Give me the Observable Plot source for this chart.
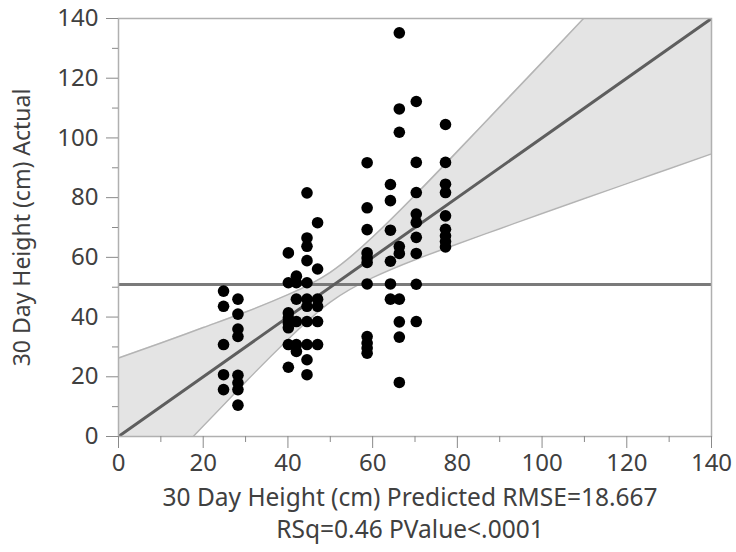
<!DOCTYPE html>
<html><head><meta charset="utf-8">
<script src="https://cdn.jsdelivr.net/npm/d3@7"></script>
<script src="https://cdn.jsdelivr.net/npm/@observablehq/plot@0.6"></script>
<style>body{margin:0;background:#fff}</style>
</head><body><div id="chart"></div>
<script>
// Predicted levels (x) and the actual values observed at each level (y)
const predictedLevels = [24.8, 28.2, 40.1, 42.0, 44.5, 47.0, 58.7, 64.2, 66.3, 70.3, 77.2];
const actualByLevel = [
  [48.7, 43.6, 30.8, 20.7, 15.7],
  [46.0, 41.0, 36.0, 33.5, 20.5, 18.0, 15.7, 10.5],
  [61.5, 51.5, 41.4, 39.7, 38.0, 36.4, 30.8, 23.2],
  [53.7, 51.5, 46.0, 38.5, 30.8, 28.5],
  [81.6, 66.5, 63.7, 58.9, 51.5, 46.0, 43.6, 38.5, 30.8, 25.7, 20.7],
  [71.6, 56.1, 46.0, 43.6, 38.5, 30.8],
  [91.7, 76.6, 69.3, 61.5, 59.8, 58.3, 51.1, 33.5, 31.3, 29.6, 27.9],
  [84.4, 79.0, 69.1, 58.7, 51.1, 46.0],
  [135.2, 109.7, 101.9, 63.6, 61.3, 46.0, 38.4, 33.3, 18.1],
  [112.2, 91.8, 81.7, 74.5, 71.7, 66.7, 61.3, 51.0, 38.5],
  [104.5, 91.8, 84.5, 81.7, 73.9, 69.4, 67.2, 65.3, 63.5]
];
const meanActual = 50.9;
const fitX = [0, 140];
const fitY = [0, 140];
const bandX     = [0, 10, 20, 30, 40, 50, 60, 70, 80, 90, 100, 110, 120, 130, 140];
const bandLower = [-26.3, -11.3, 3.5, 18.3, 32.5, 45.0, 53.2, 59.2, 64.5, 69.6, 74.7, 79.7, 84.7, 89.7, 94.7];
const bandUpper = [26.3, 31.3, 36.5, 41.7, 47.5, 55.0, 66.8, 80.8, 95.5, 110.4, 125.3, 140.3, 155.3, 170.3, 185.3];
const majorTicks = [0, 20, 40, 60, 80, 100, 120, 140];
const minorTicks = [10, 30, 50, 70, 90, 110, 130];
const xLabel = "30 Day Height (cm) Predicted RMSE=18.667";
const statsLabel = "RSq=0.46 PValue<.0001";
const yLabel = "30 Day Height (cm) Actual";

const points = predictedLevels.flatMap((x, i) => actualByLevel[i].map(y => ({x, y})));
const fit = fitX.map((x, i) => ({x, y: fitY[i]}));
const band = bandX.map((x, i) => ({x, lo: bandLower[i], hi: bandUpper[i]}));

const font = "'Segoe UI', 'Noto Sans', 'Open Sans', sans-serif";
const textColor = "#404040";

const chart = Plot.plot({
  width: 736,
  height: 552,
  marginLeft: 118,
  marginRight: 25,
  marginTop: 18,
  marginBottom: 116,
  style: {fontFamily: font, fontSize: "24px", background: "#fff", color: textColor},
  x: {domain: [0, 140]},
  y: {domain: [0, 140]},
  marks: [
    Plot.areaY(band, {x: "x", y1: "lo", y2: "hi", fill: "#e4e4e4", curve: "natural", clip: true}),
    Plot.line(band, {x: "x", y: "lo", stroke: "#b4b4b4", strokeWidth: 1.5, curve: "natural", clip: true}),
    Plot.line(band, {x: "x", y: "hi", stroke: "#b4b4b4", strokeWidth: 1.5, curve: "natural", clip: true}),
    Plot.ruleY([meanActual], {stroke: "#7a7a7a", strokeWidth: 3}),
    Plot.line(fit, {x: "x", y: "y", stroke: "#5e5e5e", strokeWidth: 3, clip: true}),
    Plot.dot(points, {x: "x", y: "y", r: 5.8, fill: "#000", stroke: "none"}),
    Plot.frame({stroke: "#b0b0b0", strokeWidth: 1.5}),
    Plot.axisY(majorTicks, {tickSize: 12, tickPadding: 8, stroke: "#8a8a8a", fill: textColor, fontSize: 24, label: null}),
    Plot.axisY(minorTicks, {tickSize: 6, tickFormat: () => "", stroke: "#8a8a8a", label: null}),
    Plot.axisX(majorTicks, {tickSize: 12, tickPadding: 5, stroke: "#8a8a8a", fill: textColor, fontSize: 24, label: null}),
    Plot.axisX(minorTicks, {tickSize: 6, tickFormat: () => "", stroke: "#8a8a8a", label: null}),
    Plot.text([xLabel], {frameAnchor: "bottom", dy: 62, dx: -5, fontSize: 24.5, fill: textColor, lineAnchor: "middle"}),
    Plot.text([statsLabel], {frameAnchor: "bottom", dy: 94, dx: -5, fontSize: 24.5, fill: textColor, lineAnchor: "middle"}),
    Plot.text([yLabel], {frameAnchor: "left", dx: -96, rotate: -90, fontSize: 23, fill: textColor, textAnchor: "middle", lineAnchor: "middle"})
  ]
});
document.getElementById("chart").appendChild(chart);
</script>
</body></html>
